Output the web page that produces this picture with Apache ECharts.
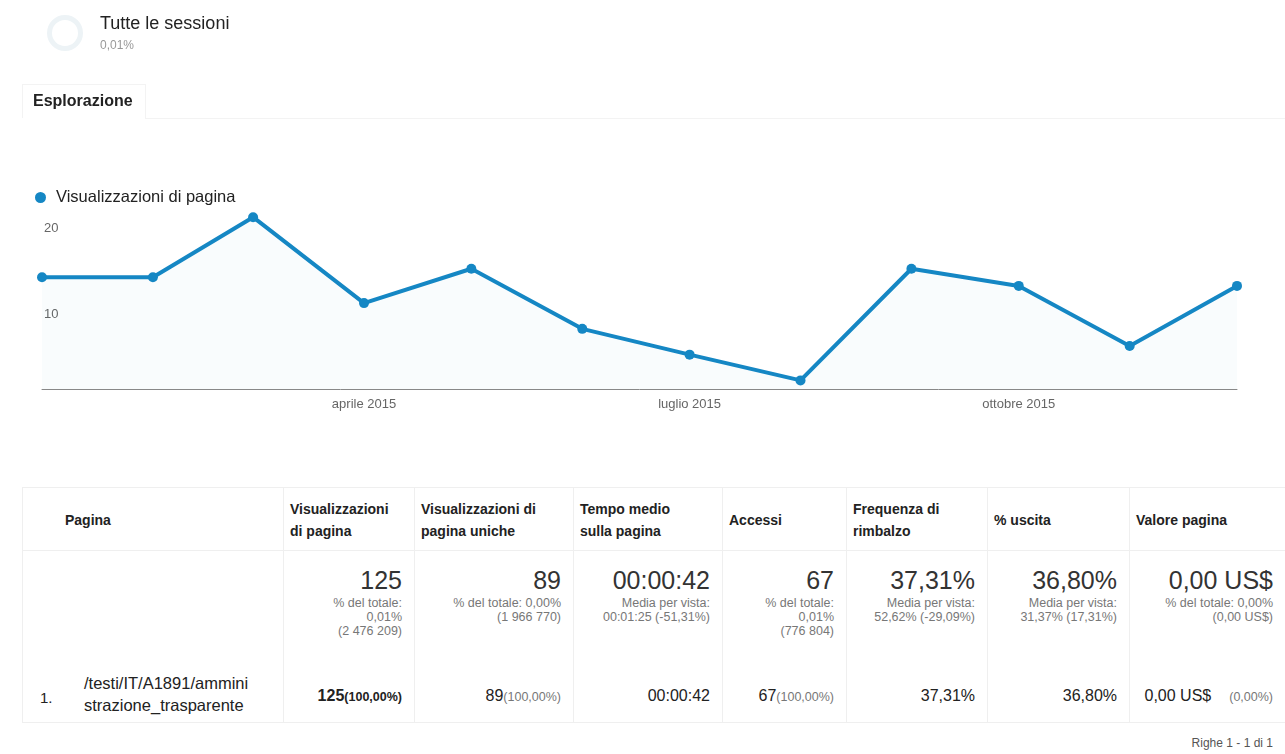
<!DOCTYPE html>
<html>
<head>
<meta charset="utf-8">
<script src="https://cdn.jsdelivr.net/npm/echarts@6/dist/echarts.min.js"></script>
<style>
  body { margin: 0; background: #fff; font-family: "Liberation Sans", Arial, sans-serif; color: #222; }
  #page { position: relative; width: 1285px; height: 754px; overflow: hidden; }
  #main { position: absolute; left: 0; top: 0; width: 1285px; height: 440px; }
  .t { position: absolute; white-space: nowrap; }
  .ln { position: absolute; background: #efefef; }
</style>
</head>
<body>
<div id="page"><div id="main"></div></div>
<script>
// chart data
const months = ["2015-01-01", "2015-02-01", "2015-03-01", "2015-04-01", "2015-05-01", "2015-06-01",
  "2015-07-01", "2015-08-01", "2015-09-01", "2015-10-01", "2015-11-01", "2015-12-01"];
const pageViews = [13, 13, 20, 10, 14, 7, 4, 1, 14, 12, 5, 12];
const tickMonths = ["2015-04-01", "2015-07-01", "2015-10-01"];
const tickLabels = ["aprile 2015", "luglio 2015", "ottobre 2015"];
const yTicks = [10, 20];
const seriesName = "Visualizzazioni di pagina";

// table data
const headers = [["Pagina"], ["Visualizzazioni", "di pagina"], ["Visualizzazioni di", "pagina uniche"],
  ["Tempo medio", "sulla pagina"], ["Accessi"], ["Frequenza di", "rimbalzo"], ["% uscita"], ["Valore pagina"]];
const totals = ["", "125", "89", "00:00:42", "67", "37,31%", "36,80%", "0,00 US$"];
const totalNotes = [[], ["% del totale:", "0,01%", "(2 476 209)"], ["% del totale: 0,00%", "(1 966 770)"],
  ["Media per vista:", "00:01:25 (-51,31%)"], ["% del totale:", "0,01%", "(776 804)"],
  ["Media per vista:", "52,62% (-29,09%)"], ["Media per vista:", "31,37% (17,31%)"],
  ["% del totale: 0,00%", "(0,00 US$)"]];
const rowIndex = "1.";
const rowPage = ["/testi/IT/A1891/ammini", "strazione_trasparente"];
const rowValues = ["125", "89", "00:00:42", "67", "37,31%", "36,80%", "0,00 US$"];
const rowShares = ["(100,00%)", "(100,00%)", "", "(100,00%)", "", "", "(0,00%)"];

// layout of the table (page pixels)
const colEdges = [22, 283, 414, 573, 722, 846, 987, 1129, 1285];

const page = document.getElementById("page");
function put(text, o) {
  const d = document.createElement("div");
  d.className = "t";
  d.textContent = text;
  const size = o.size || 12;
  const lh = o.lh || size + 4;
  d.style.fontSize = size + "px";
  d.style.lineHeight = lh + "px";
  d.style.top = o.cy - lh / 2 + "px";
  if (o.right !== undefined) d.style.right = 1285 - o.right + "px";
  else d.style.left = o.left + "px";
  if (o.bold) d.style.fontWeight = "bold";
  d.style.color = o.color || "#222";
  page.appendChild(d);
  return d;
}
function line(x, y, w, h, c) {
  const d = document.createElement("div");
  d.className = "ln";
  Object.assign(d.style, { left: x + "px", top: y + "px", width: w + "px", height: h + "px" });
  if (c) d.style.background = c;
  page.appendChild(d);
}

// header block
const ring = document.createElement("div");
Object.assign(ring.style, {
  position: "absolute", left: "47px", top: "15px", width: "36px", height: "36px",
  boxSizing: "border-box", border: "5px solid #edf3f6", borderRadius: "50%",
});
page.appendChild(ring);
put("Tutte le sessioni", { left: 100, cy: 23, size: 18 });
put("0,01%", { left: 100, cy: 45, size: 12, color: "#999" });
line(22, 84, 1, 34, "#f3f3f3");
line(22, 84, 124, 1, "#f3f3f3");
line(145, 84, 1, 34, "#f3f3f3");
line(145, 118, 1140, 1, "#f3f3f3");
put("Esplorazione", { left: 33, cy: 101, size: 16, bold: true });

// table
line(colEdges[0], 487, 1285 - colEdges[0], 1);
line(colEdges[0], 550, 1285 - colEdges[0], 1);
line(colEdges[0], 722, 1285 - colEdges[0], 1);
colEdges.slice(0, -1).forEach((x) => line(x, 487, 1, 235));

headers.forEach((h, i) => {
  const left = i === 0 ? 65 : colEdges[i] + 7;
  if (h.length === 1) put(h[0], { left, cy: 520, size: 14, bold: true });
  else h.forEach((s, k) => put(s, { left, cy: 509 + k * 22, size: 14, bold: true }));
});

totals.forEach((v, i) => {
  if (!v) return;
  const right = colEdges[i + 1] - 12;
  put(v, { right, cy: 580, size: 25, color: "#333" });
  totalNotes[i].forEach((s, k) => put(s, { right, cy: 603 + k * 14, size: 12.5, lh: 14, color: "#777" }));
});

put(rowIndex, { left: 40, cy: 697, size: 15 });
rowPage.forEach((s, k) => put(s, { left: 84, cy: 683 + k * 22, size: 16.5 }));
rowValues.forEach((v, i) => {
  const right = colEdges[i + 2] - 12;
  const d = put("", { right, cy: 696, size: 16, lh: 20 });
  const b = document.createElement("span");
  b.textContent = v;
  if (i === 0) b.style.fontWeight = "bold";
  d.appendChild(b);
  if (rowShares[i]) {
    const s = document.createElement("span");
    s.textContent = rowShares[i];
    s.style.fontSize = "12.5px";
    if (i === 0) s.style.fontWeight = "bold";
    else s.style.color = "#777";
    if (i === 6) s.style.marginLeft = "18px";
    d.appendChild(s);
  }
});
put("Righe 1 - 1 di 1", { right: 1273, cy: 743, size: 12, color: "#555" });

// chart: x is a day-proportional timestamp axis
const toTs = (s) => new Date(s + "T00:00:00").getTime();
const tickTs = tickMonths.map(toTs);

var chartDom = document.getElementById("main");
var myChart = echarts.init(chartDom);
var option = {
  animation: false,
  legend: {
    data: [seriesName],
    left: 30,
    top: 184,
    icon: "circle",
    itemWidth: 11,
    itemHeight: 11,
    textStyle: { fontSize: 16.5, color: "#222", padding: [0, 0, 0, 5], fontFamily: "Liberation Sans, Arial" },
  },
  grid: { left: 42, right: 48, top: 200, bottom: 51 },
  xAxis: {
    type: "value",
    min: toTs(months[0]),
    max: toTs(months[months.length - 1]),
    axisLine: { lineStyle: { color: "#888", width: 1 } },
    axisTick: { show: false },
    splitLine: { show: false },
    axisLabel: {
      customValues: tickTs,
      formatter: (v) => tickLabels[tickTs.indexOf(v)] || "",
      color: "#666",
      fontSize: 13,
      margin: 9,
      fontFamily: "Liberation Sans, Arial",
    },
  },
  yAxis: {
    type: "value",
    min: 0,
    max: 22,
    axisLine: { show: false },
    axisTick: { show: false },
    splitLine: { show: false },
    axisLabel: {
      inside: true,
      customValues: yTicks,
      color: "#666",
      fontSize: 13,
      margin: 2,
      verticalAlign: "top",
      padding: [5, 0, 0, 0],
      fontFamily: "Liberation Sans, Arial",
    },
  },
  series: [
    {
      name: seriesName,
      type: "line",
      data: months.map((m, i) => [toTs(m), pageViews[i]]),
      symbol: "circle",
      symbolSize: 10,
      color: "#1587c4",
      lineStyle: { width: 4, color: "#1587c4" },
      itemStyle: { color: "#1587c4" },
      areaStyle: { color: "rgba(21,135,196,0.04)" },
    },
  ],
};
myChart.setOption(option);
</script>
</body>
</html>
